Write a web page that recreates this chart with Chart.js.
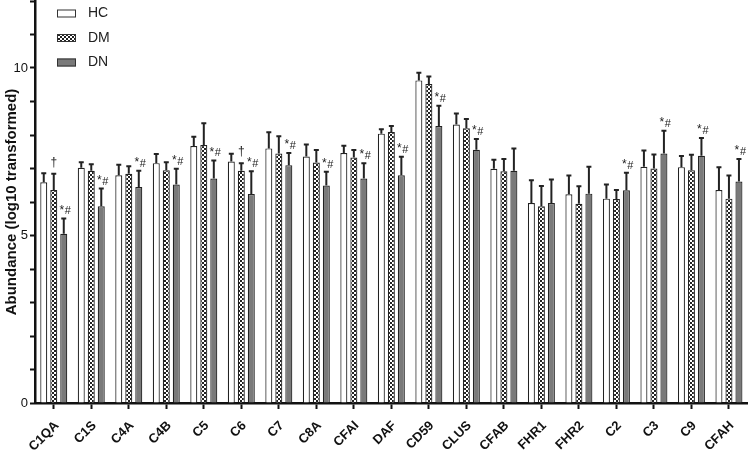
<!DOCTYPE html>
<html>
<head>
<meta charset="utf-8">
<script src="https://cdn.jsdelivr.net/npm/chart.js@4/dist/chart.umd.min.js"></script>
<style>
  body { margin: 0; background: #fff; }
  #wrap { width: 749px; height: 450px; }
</style>
</head>
<body>
<div id="wrap"><canvas id="chart" width="749" height="450"></canvas></div>
<script>
const categories = ['C1QA', 'C1S', 'C4A', 'C4B', 'C5', 'C6', 'C7', 'C8A', 'CFAI', 'DAF',
    'CD59', 'CLUS', 'CFAB', 'FHR1', 'FHR2', 'C2', 'C3', 'C9', 'CFAH'];

const hcValues = [6.59, 7.02, 6.80, 7.16, 7.67, 7.21, 7.60, 7.36, 7.46, 8.04, 9.63, 8.31, 6.99, 5.97, 6.23, 6.10, 7.05, 7.04, 6.36];
const hcSd = [0.27, 0.17, 0.31, 0.27, 0.28, 0.23, 0.48, 0.36, 0.22, 0.13, 0.23, 0.33, 0.27, 0.68, 0.56, 0.42, 0.49, 0.33, 0.68];

const dmValues = [6.36, 6.93, 6.84, 6.95, 7.70, 6.93, 7.45, 7.18, 7.33, 8.09, 9.52, 8.20, 6.92, 5.87, 5.95, 6.09, 7.00, 6.95, 6.10];
const dmSd = [0.48, 0.20, 0.23, 0.24, 0.65, 0.23, 0.51, 0.37, 0.22, 0.18, 0.23, 0.28, 0.36, 0.61, 0.52, 0.27, 0.42, 0.46, 0.69];

const dnValues = [5.05, 5.87, 6.45, 6.52, 6.70, 6.24, 7.10, 6.49, 6.70, 6.80, 8.27, 7.56, 6.93, 5.97, 6.25, 6.35, 7.45, 7.38, 6.61];
const dnSd = [0.46, 0.53, 0.48, 0.47, 0.54, 0.68, 0.36, 0.41, 0.46, 0.55, 0.60, 0.32, 0.67, 0.70, 0.80, 0.52, 0.68, 0.53, 0.67];

// significance marks drawn above the error bars
const dmMarks = ['†', '', '', '', '', '†', '', '', '', '', '', '', '', '', '', '', '', '', ''];
const dnMarks = ['*#', '*#', '*#', '*#', '*#', '*#', '*#', '*#', '*#', '*#', '*#', '*#', '', '', '', '*#', '*#', '*#', '*#'];

const yTickLabels = [0, 5, 10];

const FONT = "'Liberation Sans', Arial, sans-serif";

// checkered fill for the DM bars
function makeChecker() {
    const c = document.createElement('canvas');
    c.width = 4;
    c.height = 4;
    const g = c.getContext('2d');
    g.fillStyle = '#fff';
    g.fillRect(0, 0, 4, 4);
    g.fillStyle = '#222';
    g.fillRect(0, 0, 2, 2);
    g.fillRect(2, 2, 2, 2);
    return g.createPattern(c, 'repeat');
}
const checker = makeChecker();

const errorBarsPlugin = {
    id: 'errorBars',
    afterDatasetsDraw(chart) {
        const { ctx } = chart;
        const yScale = chart.scales.y;
        const sds = [hcSd, dmSd, dnSd];
        const marks = [null, dmMarks, dnMarks];
        ctx.save();
        chart.data.datasets.forEach((ds, di) => {
            const meta = chart.getDatasetMeta(di);
            meta.data.forEach((bar, i) => {
                const top = yScale.getPixelForValue(ds.data[i] + sds[di][i]);
                ctx.strokeStyle = '#222';
                ctx.lineWidth = 2;
                ctx.beginPath();
                ctx.moveTo(bar.x, bar.y);
                ctx.lineTo(bar.x, top);
                ctx.moveTo(bar.x - 2.5, top);
                ctx.lineTo(bar.x + 2.5, top);
                ctx.stroke();

                const m = marks[di] ? marks[di][i] : '';
                ctx.fillStyle = '#222';
                ctx.textBaseline = 'middle';
                ctx.textAlign = 'center';
                if (m === '†') {
                    ctx.font = `12px ${FONT}`;
                    ctx.fillText('†', bar.x, top - 11);
                } else if (m === '*#') {
                    ctx.font = `12px ${FONT}`;
                    ctx.fillText('*', bar.x - 2, top - 8);
                    ctx.font = `11px ${FONT}`;
                    ctx.fillText('#', bar.x + 4, top - 7);
                }
            });
        });
        ctx.restore();
    },
    afterDraw(chart) {
        // legend, top-left inside the plot
        const { ctx } = chart;
        ctx.save();
        ctx.font = `14px ${FONT}`;
        ctx.textBaseline = 'middle';
        ctx.textAlign = 'left';
        chart.data.datasets.forEach((ds, di) => {
            const cy = 13.5 + di * 24.5;
            ctx.fillStyle = ds.backgroundColor;
            ctx.fillRect(57, cy - 4, 19, 8);
            ctx.strokeStyle = '#333';
            ctx.lineWidth = 1;
            ctx.strokeRect(57.5, cy - 3.5, 18, 7);
            ctx.fillStyle = '#222';
            ctx.fillText(ds.label, 88, cy);
        });
        ctx.restore();
    }
};

const barStyle = {
    borderColor: '#222',
    borderWidth: 1.2,
    categoryPercentage: 0.8,
    barPercentage: 0.7
};

new Chart(document.getElementById('chart').getContext('2d'), {
    type: 'bar',
    data: {
        labels: categories,
        datasets: [
            { label: 'HC', data: hcValues, backgroundColor: '#ffffff', ...barStyle },
            { label: 'DM', data: dmValues, backgroundColor: checker, ...barStyle },
            { label: 'DN', data: dnValues, backgroundColor: '#7a7a7a', ...barStyle }
        ]
    },
    options: {
        responsive: false,
        animation: false,
        layout: { padding: { top: 1, right: 1, left: 0, bottom: 0 } },
        plugins: {
            legend: { display: false },
            tooltip: { enabled: false }
        },
        scales: {
            x: {
                grid: {
                    display: true,
                    drawOnChartArea: false,
                    drawTicks: true,
                    offset: false,
                    tickLength: 6,
                    tickWidth: 2,
                    color: '#111'
                },
                border: { display: true, color: '#111', width: 2.5 },
                ticks: {
                    color: '#111',
                    font: { family: FONT, size: 13, weight: 'bold' },
                    minRotation: 45,
                    maxRotation: 45,
                    autoSkip: false,
                    padding: 9,
                    labelOffset: 3
                },
                afterFit(scale) { scale.height = 47; }
            },
            y: {
                min: 0,
                max: 12,
                grid: {
                    display: true,
                    drawOnChartArea: false,
                    drawTicks: true,
                    tickLength: 5,
                    tickWidth: 2,
                    color: '#111'
                },
                border: { display: true, color: '#111', width: 2.5 },
                ticks: {
                    stepSize: 1,
                    color: '#111',
                    padding: 2,
                    font: { family: FONT, size: 13 },
                    callback: (v) => yTickLabels.includes(v) ? String(v) : ''
                },
                title: {
                    display: true,
                    text: 'Abundance (log10 transformed)',
                    color: '#111',
                    font: { family: FONT, size: 15, weight: 'bold' },
                    padding: { top: 3, bottom: 0 }
                },
                afterFit(scale) {
                    scale.width = 35;
                    scale.paddingTop = 0;
                }
            }
        }
    },
    plugins: [errorBarsPlugin]
});
</script>
</body>
</html>
